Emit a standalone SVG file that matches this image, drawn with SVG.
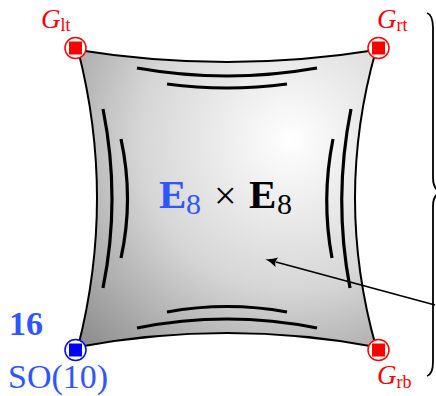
<svg xmlns="http://www.w3.org/2000/svg" width="436" height="396" viewBox="0 0 436 396">
<defs>
<radialGradient id="sheetGrad" gradientUnits="userSpaceOnUse" cx="290" cy="140" r="300">
<stop offset="0" stop-color="#ffffff"/>
<stop offset="0.5" stop-color="#d6d6d6"/>
<stop offset="1" stop-color="#888888"/>
</radialGradient>
<marker id="arrowHead" viewBox="0 0 12 10" refX="1" refY="5" markerWidth="12" markerHeight="10" markerUnits="userSpaceOnUse" orient="auto">
<path d="M12,5 Q6,4 0,0 Q3,5 0,10 Q6,6 12,5 Z" fill="#000"/>
</marker>
<style>
.sheet{fill:url(#sheetGrad);stroke:#000;stroke-width:2;stroke-linejoin:round}
.brane{fill:none;stroke:#000;stroke-width:3.2}
.conn{fill:none;stroke:#000;stroke-width:1.8}
.redRing{fill:#fff;stroke:#ff0000;stroke-width:1.5}
.redSq{fill:#ff0000}
.blueRing{fill:#fff;stroke:#0000ff;stroke-width:1.5}
.blueSq{fill:#0000ff}
.glab{font-family:"Liberation Serif",serif;fill:#ff0000}
.blue{fill:#2f55ff}
.serif{font-family:"Liberation Serif",serif}
</style>
</defs>

<g id="sheet">
<path class="sheet" d="M78,50 Q227,74 376,50 Q334,198 376,347 Q227,319 78,347 Q116,198 78,50 Z"/>
<path class="brane" d="M137,68 Q227,84 317,68"/>
<path class="brane" d="M167,84 Q227,92 287,84"/>
<path class="brane" d="M167,312 Q227,301 287,312"/>
<path class="brane" d="M137,328 Q227,310 317,328"/>
<path class="brane" d="M103,109 Q121,199 103,288"/>
<path class="brane" d="M121,139 Q134,199 121,258"/>
<path class="brane" d="M351,109 Q333,199 350,288"/>
<path class="brane" d="M333,139 Q321,199 332,258"/>
<text class="serif" font-weight="bold" font-size="41"><tspan class="blue" x="159" y="208">E</tspan><tspan class="blue" font-weight="normal" font-size="30" x="186" y="214">8</tspan><tspan font-weight="normal" font-size="40" x="214" y="209">×</tspan><tspan x="249" y="208">E</tspan><tspan font-weight="normal" font-size="30" x="277" y="214">8</tspan></text>
</g>

<g id="connectors">
<path class="conn" d="M427,13 Q433,15 433,28 L433,178 Q433,190 442,192 Q433,194 433,206 L433,362 Q433,374 427,376"/>
<path class="conn" d="M435,305 L276,262" marker-end="url(#arrowHead)"/>
</g>

<g id="node-lt">
<circle class="redRing" cx="75.5" cy="48" r="10.5"/>
<rect class="redSq" x="69" y="41.5" width="13" height="13"/>
<text class="glab" font-style="italic" font-size="27" x="41" y="28">G<tspan font-style="normal" font-size="18" dy="3">lt</tspan></text>
</g>

<g id="node-rt">
<circle class="redRing" cx="378.5" cy="48" r="10.5"/>
<rect class="redSq" x="372" y="41.5" width="13" height="13"/>
<text class="glab" font-style="italic" font-size="27" x="377" y="28">G<tspan font-style="normal" font-size="18" dy="3">rt</tspan></text>
</g>

<g id="node-rb">
<circle class="redRing" cx="378.5" cy="350" r="10.5"/>
<rect class="redSq" x="372" y="343.5" width="13" height="13"/>
<text class="glab" font-style="italic" font-size="27" x="377" y="384">G<tspan font-style="normal" font-size="18" dy="4">rb</tspan></text>
</g>

<g id="node-lb">
<circle class="blueRing" cx="75.5" cy="350" r="10.5"/>
<rect class="blueSq" x="69" y="343.5" width="13" height="13"/>
<text class="serif blue" font-weight="bold" font-size="34" x="9" y="335">16</text>
<text class="serif blue" font-size="34" x="8" y="388">SO(10)</text>
</g>
</svg>
